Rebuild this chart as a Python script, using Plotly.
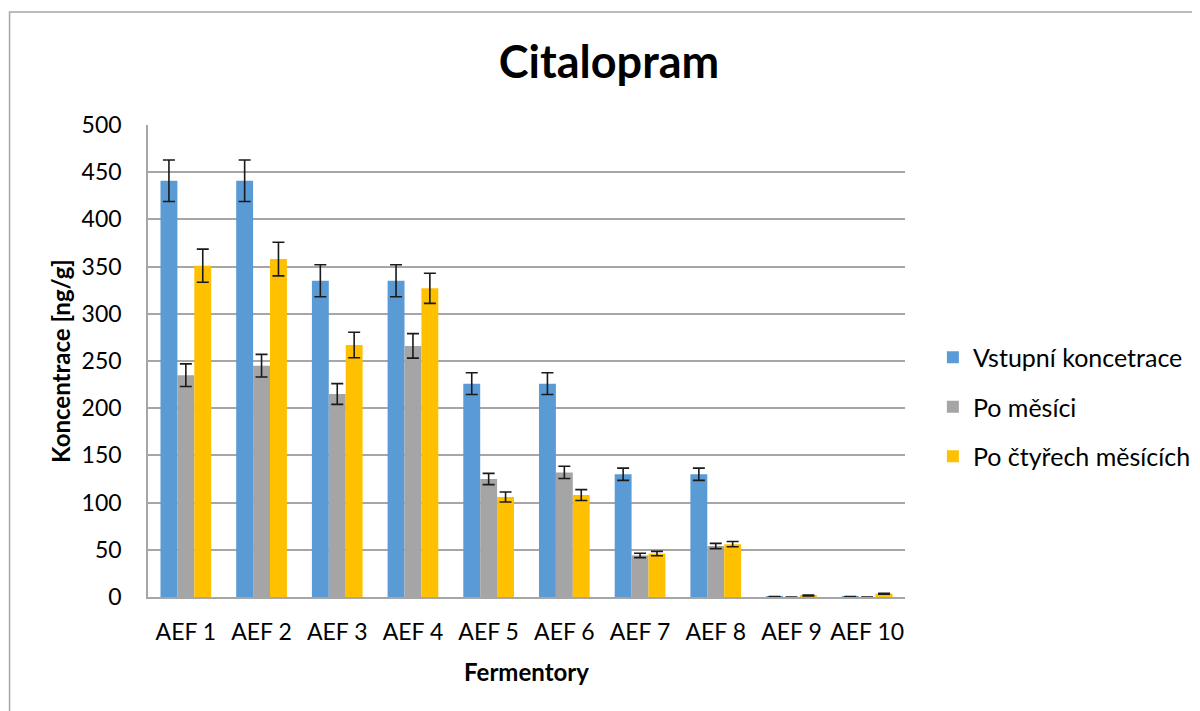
import plotly.graph_objects as go

categories = ["AEF 1", "AEF 2", "AEF 3", "AEF 4", "AEF 5", "AEF 6", "AEF 7", "AEF 8", "AEF 9", "AEF 10"]

vstupni = [441, 441, 335, 335, 226, 226, 130, 130, 0.4, 0.4]
vstupni_err = [22, 22, 17, 17, 11.5, 11.5, 6.5, 6.5, 0, 0]

po_mesici = [235, 245, 215, 266, 125, 132, 44, 54, 0, 0]
po_mesici_err = [12, 12, 11, 13, 6, 6.5, 2.3, 2.8, 0, 0]

po_ctyrech = [351, 358, 267, 327, 106, 108, 46, 56, 1.5, 3.5]
po_ctyrech_err = [17.5, 17.8, 13.5, 16, 5.3, 5.7, 2.3, 2.8, 0.5, 0.5]

names = ["Vstupní koncetrace", "Po měsíci", "Po čtyřech měsících"]
colors = ["#5B9BD5", "#A5A5A5", "#FFC000"]

FONT = "Lato, 'Open Sans', sans-serif"

fig = go.Figure()
for i, (vals, errs) in enumerate([(vstupni, vstupni_err), (po_mesici, po_mesici_err), (po_ctyrech, po_ctyrech_err)]):
    fig.add_trace(go.Bar(
        x=categories, y=vals, name=names[i],
        marker=dict(color=colors[i], line=dict(width=0)),
        error_y=dict(type="data", array=errs, visible=True, color="#1a1a1a", thickness=1.6, width=6),
        legendgroup=str(i),
    ))

# displayed plot area: x 148..908, y 125..597
fig.add_shape(type="rect", xref="paper", yref="paper",
              x0=(9 - 148) / 760, x1=(1215 - 148) / 760,
              y0=(597 - 730) / 472, y1=(597 - 12) / 472,
              line=dict(color="#A6A6A6", width=1.5), fillcolor="rgba(0,0,0,0)", layer="below")

fig.update_layout(
    width=1200, height=711,
    margin=dict(l=140, r=298, t=117, b=122),
    paper_bgcolor="white", plot_bgcolor="white",
    font=dict(family=FONT, color="black", size=23),
    title=dict(text="<b>Citalopram</b>", x=601 / 1200, xanchor="center", y=1 - 54 / 711, yanchor="middle",
               font=dict(size=45, family=FONT, color="black")),
    barmode="group", bargap=0.33, bargroupgap=0,
    showlegend=True,
    legend=dict(x=(936 - 148) / 760, xanchor="left", y=(597 - 407) / 472,
                yanchor="middle", font=dict(size=25, family=FONT), traceorder="grouped",
                tracegroupgap=14, itemwidth=30, bgcolor="rgba(0,0,0,0)"),
    xaxis=dict(title=dict(text="<b>Fermentory</b>", font=dict(size=24, family=FONT), standoff=20),
               showline=True, linecolor="#A6A6A6", linewidth=1.5, showgrid=False,
               ticks="", tickfont=dict(size=23, family=FONT), ticklabelstandoff=14),
    yaxis=dict(title=dict(text="<b>Koncentrace [ng/g]</b>", font=dict(size=24, family=FONT), standoff=4),
               range=[0, 500], dtick=50, showline=True, linecolor="#A6A6A6", linewidth=1.5,
               showgrid=True, gridcolor="#A6A6A6", gridwidth=1.5, zeroline=False,
               ticks="", tickfont=dict(size=23, family=FONT), ticklabelstandoff=20),
)

fig.write_html("out.html")
